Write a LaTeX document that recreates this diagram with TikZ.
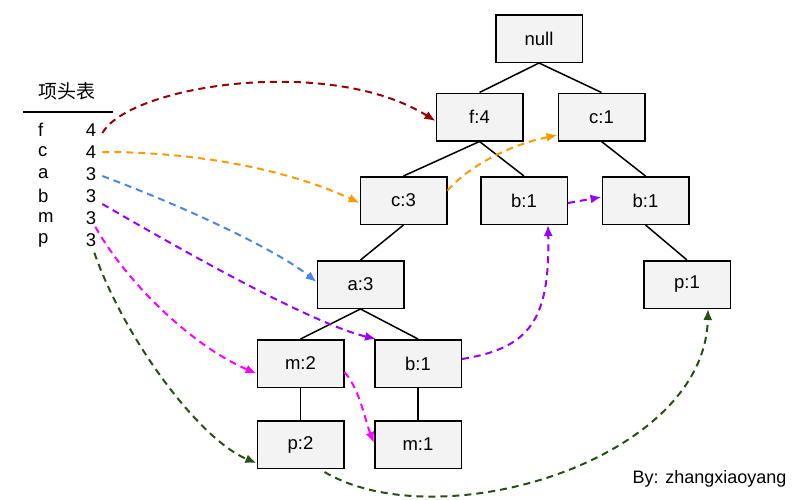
\documentclass[tikz,border=0pt]{standalone}
\usepackage{fontspec}
\setmainfont{Liberation Sans}
\newfontfamily\cjk{Noto Sans CJK SC}
\usepackage{tikz}
\usetikzlibrary{arrows.meta}
\definecolor{boxgray}{HTML}{F3F3F3}
\definecolor{ptrred}{HTML}{990000}
\definecolor{ptrorange}{HTML}{FF9900}
\definecolor{ptrblue}{HTML}{4A86E8}
\definecolor{ptrpurple}{HTML}{9900FF}
\definecolor{ptrmagenta}{HTML}{FF00FF}
\definecolor{ptrgreen}{HTML}{274E13}

\begin{document}
\begin{tikzpicture}[x=1pt,y=-1pt,
  tnode/.style={draw,line width=1.5pt,fill=boxgray,minimum width=86.5pt,minimum height=47.5pt,inner sep=0pt,font=\fontsize{18.5}{21}\selectfont},
  link/.style={line width=1.5pt},
  ptr/.style={line width=2pt,dash pattern=on 7pt off 5pt,-{Latex[length=11pt,width=9pt]}}]
\useasboundingbox (0,0) rectangle (807,499);
% header table
\node[font=\cjk\fontsize{19}{21}\selectfont] (title) at (67,91) {项头表};
\draw[line width=1.5pt] (23,112) -- (113,112);
\foreach \k/\n/\y in {f/4/130,c/4/152,a/3/174,b/3/196,m/3/218,p/3/240}{
  \node[anchor=west,inner sep=2pt,font=\fontsize{18.5}{21}\selectfont] (l\k) at (36,\y) {\k};
  \node[inner sep=2pt,font=\fontsize{18.5}{21}\selectfont] (n\k) at (91,\y) {\n};
}
% tree
\node[tnode] (null) at (539,38.5) {null};
\node[tnode] (f4) at (479.5,117) {f:4};
\node[tnode] (c1) at (601.5,117) {c:1};
\node[tnode] (c3) at (403.5,200.5) {c:3};
\node[tnode] (b1m) at (524,200.5) {b:1};
\node[tnode] (b1r) at (645.5,200.5) {b:1};
\node[tnode] (a3) at (360.5,284.5) {a:3};
\node[tnode] (p1) at (687,284.5) {p:1};
\node[tnode] (m2) at (300.5,363.5) {m:2};
\node[tnode] (b1l) at (418,363.5) {b:1};
\node[tnode] (p2) at (300.5,444.5) {p:2};
\node[tnode] (m1) at (418,444.5) {m:1};
\draw[link] (null.south) -- (f4.north);
\draw[link] (null.south) -- (c1.north);
\draw[link] (f4.south) -- (c3.north);
\draw[link] (f4.south) -- (b1m.north);
\draw[link] (c1.south) -- (b1r.north);
\draw[link] (b1r.south) -- (p1.north);
\draw[link] (c3.south) -- (a3.north);
\draw[link] (a3.south) -- (m2.north);
\draw[link] (a3.south) -- (b1l.north);
\draw[link] (m2.south) -- (p2.north);
\draw[link] (b1l.south) -- (m1.north);
% node links
\draw[ptr,ptrred] ([shift={(4,3)}]nf.east) .. controls (130,85) and (330,55) .. ([yshift=-4pt]f4.west);
\draw[ptr,ptrorange] ([shift={(4,0)}]nc.east) .. controls (213,152) and (300,175) .. ([yshift=-2.5pt]c3.west);
\draw[ptr,ptrorange] ([yshift=10pt]c3.east) .. controls (470,165) and (510,145) .. ([yshift=-18pt]c1.west);
\draw[ptr,ptrblue] ([shift={(4,2)}]na.east) .. controls (183,206) and (277,250) .. ([yshift=2.5pt]a3.west);
\draw[ptr,ptrpurple] ([shift={(4,8)}]nb.east) .. controls (250,290) and (330,328) .. ([xshift=2pt]b1l.north west);
\draw[ptr,ptrpurple] ([yshift=4.5pt]b1l.east) .. controls (530,348) and (550,320) .. ([xshift=24pt]b1m.south);
\draw[ptr,ptrpurple] ([yshift=-2.5pt]b1m.east) -- ([yshift=3.5pt]b1r.west);
\draw[ptr,ptrmagenta] ([shift={(-3,0)}]nm.south east) .. controls (125,280) and (190,345) .. ([yshift=-10pt]m2.west);
\draw[ptr,ptrmagenta] ([yshift=-8.5pt]m2.east) .. controls (360,390) and (365,420) .. ([yshift=1.5pt]m1.west);
\draw[ptr,ptrgreen] ([shift={(-4,4)}]np.south east) .. controls (125,340) and (200,440) .. ([yshift=-18.5pt]p2.west);
\draw[ptr,ptrgreen] ([shift={(24,3)}]p2.south) .. controls (440,540) and (705,460) .. ([xshift=21pt]p1.south);
\node[font=\fontsize{18}{20}\selectfont] (author) at (709.5,479) {By: zhangxiaoyang};
\end{tikzpicture}
\end{document}
